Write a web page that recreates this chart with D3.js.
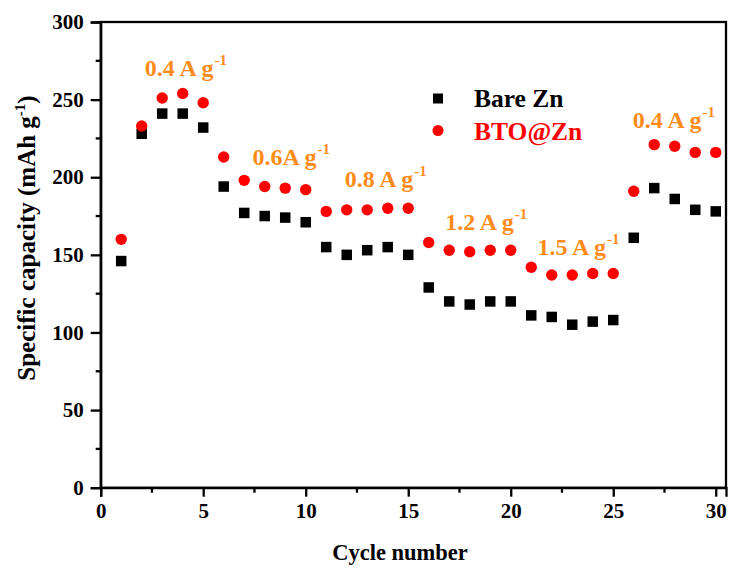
<!DOCTYPE html>
<html>
<head>
<meta charset="utf-8">
<script src="https://cdn.jsdelivr.net/npm/d3@7"></script>
<style>
  html, body { margin: 0; padding: 0; background: #fff; }
  svg { display: block; }
  text { font-family: "Liberation Serif", "Times New Roman", serif; font-weight: bold; }
</style>
</head>
<body>
<svg id="chart" width="732" height="568"></svg>
<script>
// Rate performance: specific capacity per cycle
const cycles = d3.range(1, 31);
const bareZn = [146, 228, 241, 241, 232, 194, 177, 175, 174, 171,
                155, 150, 153, 155, 150, 129, 120, 118, 120, 120,
                111, 110, 105, 107, 108, 161, 193, 186, 179, 178];
const btoZn  = [160, 233, 251, 254, 248, 213, 198, 194, 193, 192,
                178, 179, 179, 180, 180, 158, 153, 152, 153, 153,
                142, 137, 137, 138, 138, 191, 221, 220, 216, 216];
const xTicks = [0, 5, 10, 15, 20, 25, 30];
const yTicks = [0, 50, 100, 150, 200, 250, 300];
// Current-density annotations: text, x position (cycle), y position (capacity)
const rateLabels = ["0.4 A g", "0.6A g", "0.8 A g", "1.2 A g", "1.5 A g", "0.4 A g"];
const rateX = [2.15, 7.4, 11.9, 16.8, 21.3, 25.95];
const rateY = [265, 208, 194, 166, 150, 232];
const seriesNames = ["Bare Zn", "BTO@Zn"];

const svg = d3.select("#chart");
const L = 100.7, R = 726, T = 22, B = 487.7;
const x = d3.scaleLinear().domain([0, 30.5]).range([L, R]);
const y = d3.scaleLinear().domain([0, 300]).range([B, T]);

const orange = "#ff8c1a", red = "#ff0000";
const sw = 2.3;

// frame
svg.append("rect").attr("x", L).attr("y", T).attr("width", R - L).attr("height", B - T)
  .attr("fill", "none").attr("stroke", "#000").attr("stroke-width", sw);

// x axis
const xAxis = d3.axisBottom(x).tickValues(xTicks).tickSize(9).tickPadding(6).tickFormat(d3.format("d"));
const gx = svg.append("g").attr("transform", `translate(0,${B})`).call(xAxis);
gx.select(".domain").attr("stroke-width", sw);
gx.selectAll(".tick line").attr("stroke-width", sw);
gx.selectAll("text").attr("font-size", 21).attr("font-family", "Liberation Serif").attr("font-weight", "bold").attr("fill", "#000");
const xMinor = d3.range(2.5, 30, 5);
svg.append("g").selectAll("line").data(xMinor).join("line")
  .attr("x1", d => x(d)).attr("x2", d => x(d)).attr("y1", B).attr("y2", B + 5)
  .attr("stroke", "#000").attr("stroke-width", sw);

// y axis
const yAxis = d3.axisLeft(y).tickValues(yTicks).tickSize(10).tickPadding(7).tickFormat(d3.format("d"));
const gy = svg.append("g").attr("transform", `translate(${L},0)`).call(yAxis);
gy.select(".domain").attr("stroke-width", sw);
gy.selectAll(".tick line").attr("stroke-width", sw);
gy.selectAll("text").attr("font-size", 21).attr("font-family", "Liberation Serif").attr("font-weight", "bold").attr("fill", "#000");
const yMinor = d3.range(25, 300, 50);
svg.append("g").selectAll("line").data(yMinor).join("line")
  .attr("x1", L).attr("x2", L - 5).attr("y1", d => y(d)).attr("y2", d => y(d))
  .attr("stroke", "#000").attr("stroke-width", sw);

// axis titles
svg.append("text").attr("x", 400).attr("y", 560).attr("text-anchor", "middle")
  .attr("font-size", 22.5).text("Cycle number");
const yt = svg.append("text").attr("transform", "translate(35,238) rotate(-90)")
  .attr("text-anchor", "middle").attr("font-size", 25);
yt.append("tspan").text("Specific capacity (mAh g");
yt.append("tspan").attr("font-size", 15).attr("dy", -10).text("-1");
yt.append("tspan").attr("dy", 10).text(")");

// markers
const sq = 10.5;
svg.append("g").selectAll("rect").data(cycles).join("rect")
  .attr("x", d => x(d) - sq / 2).attr("y", (d, i) => y(bareZn[i]) - sq / 2)
  .attr("width", sq).attr("height", sq).attr("fill", "#000");
svg.append("g").selectAll("circle").data(cycles).join("circle")
  .attr("cx", d => x(d)).attr("cy", (d, i) => y(btoZn[i])).attr("r", 5.7).attr("fill", red);

// rate annotations
rateLabels.forEach((t, i) => {
  const tx = svg.append("text").attr("x", x(rateX[i])).attr("y", y(rateY[i]))
    .attr("font-size", 24).attr("fill", orange);
  tx.append("tspan").text(t);
  tx.append("tspan").attr("font-size", 15).attr("dy", -11).attr("dx", 1).text("-1");
});

// legend
svg.append("rect").attr("x", 438 - 5).attr("y", 98.5 - 5).attr("width", 10).attr("height", 10).attr("fill", "#000");
svg.append("text").attr("x", 474).attr("y", 107.3).attr("font-size", 25.5).attr("fill", "#000").text(seriesNames[0]);
svg.append("circle").attr("cx", 438).attr("cy", 130.5).attr("r", 5.5).attr("fill", red);
svg.append("text").attr("x", 474).attr("y", 140).attr("font-size", 25.5).attr("fill", red).text(seriesNames[1]);
</script>
</body>
</html>
